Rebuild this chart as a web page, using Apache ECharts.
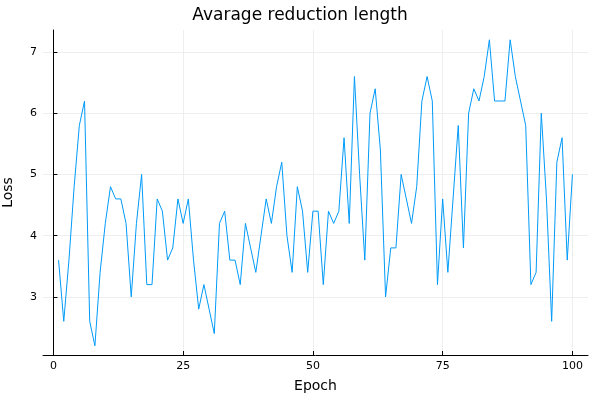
<!DOCTYPE html>
<html><head><meta charset="utf-8">
<script src="https://cdn.jsdelivr.net/npm/echarts@6/dist/echarts.min.js"></script>
<style>html,body{margin:0;padding:0;background:#fff}#c{width:600px;height:400px}</style>
</head><body><div id="c"></div>
<script>
// 数据
const epochs = Array.from({ length: 100 }, (_, i) => i + 1);
const loss = [
  3.6, 2.6, 3.6, 4.8, 5.8, 6.2, 2.6, 2.2, 3.4, 4.2,
  4.8, 4.6, 4.6, 4.2, 3.0, 4.2, 5.0, 3.2, 3.2, 4.6,
  4.4, 3.6, 3.8, 4.6, 4.2, 4.6, 3.6, 2.8, 3.2, 2.8,
  2.4, 4.2, 4.4, 3.6, 3.6, 3.2, 4.2, 3.8, 3.4, 4.0,
  4.6, 4.2, 4.8, 5.2, 4.0, 3.4, 4.8, 4.4, 3.4, 4.4,
  4.4, 3.2, 4.4, 4.2, 4.4, 5.6, 4.2, 6.6, 5.0, 3.6,
  6.0, 6.4, 5.4, 3.0, 3.8, 3.8, 5.0, 4.6, 4.2, 4.8,
  6.2, 6.6, 6.2, 3.2, 4.6, 3.4, 4.6, 5.8, 3.8, 6.0,
  6.4, 6.2, 6.6, 7.2, 6.2, 6.2, 6.2, 7.2, 6.6, 6.2,
  5.8, 3.2, 3.4, 6.0, 4.6, 2.6, 5.2, 5.6, 3.6, 5.0
];
const xTicks = [0, 25, 50, 75, 100];
const yTicks = [3, 4, 5, 6, 7];

const chart = echarts.init(document.getElementById('c'));
const font = 'DejaVu Sans';
const gridLine = { show: true, lineStyle: { color: '#eeeeee', width: 1 } };

chart.setOption({
  animation: false,
  textStyle: { fontFamily: font },
  title: { text: 'Avarage reduction length', left: 'center', top: 2, textStyle: { fontFamily: font, fontSize: 17, fontWeight: 'normal', color: '#000' } },
  grid: { left: 43, right: 12, top: 30, bottom: 45, outerBoundsMode: 'none' },
  xAxis: {
    type: 'value', min: -2, max: 103,
    name: 'Epoch', nameLocation: 'middle', nameGap: 24,
    nameTextStyle: { fontFamily: font, fontSize: 14, color: '#000' },
    axisLine: { show: true, lineStyle: { color: '#000' } },
    axisTick: { show: true, inside: true, length: 4, customValues: xTicks, lineStyle: { color: '#000' } },
    axisLabel: { customValues: xTicks, fontSize: 11, color: '#000', margin: 6 },
    splitLine: gridLine
  },
  yAxis: {
    type: 'value', min: 2.05, max: 7.36,
    name: 'Loss', nameLocation: 'middle', nameGap: 28,
    nameTextStyle: { fontFamily: font, fontSize: 14, color: '#000' },
    axisLine: { show: true, lineStyle: { color: '#000' } },
    axisTick: { show: true, inside: true, length: 4, customValues: yTicks, lineStyle: { color: '#000' } },
    axisLabel: { customValues: yTicks, fontSize: 11, color: '#000', margin: 6 },
    splitLine: gridLine
  },
  series: [{
    type: 'line',
    data: epochs.map((e, i) => [e, loss[i]]),
    symbol: 'none',
    lineStyle: { color: '#009af9', width: 1 }
  }]
});
</script></body></html>
